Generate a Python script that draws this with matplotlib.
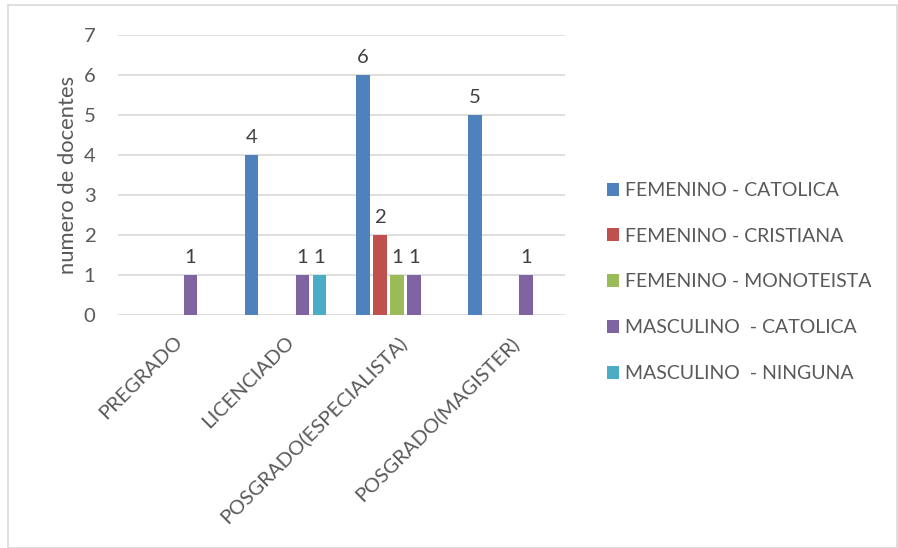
import matplotlib
matplotlib.use("Agg")
import matplotlib.pyplot as plt
from matplotlib.patches import Rectangle
import numpy as np

categories = ["PREGRADO", "LICENCIADO", "POSGRADO(ESPECIALISTA)", "POSGRADO(MAGISTER)"]
series_names = ["FEMENINO - CATOLICA", "FEMENINO - CRISTIANA", "FEMENINO - MONOTEISTA",
                "MASCULINO  - CATOLICA", "MASCULINO  - NINGUNA"]
fem_catolica = [0, 4, 6, 5]
fem_cristiana = [0, 0, 2, 0]
fem_monoteista = [0, 0, 1, 0]
masc_catolica = [1, 1, 1, 1]
masc_ninguna = [0, 1, 0, 0]
series_values = [fem_catolica, fem_cristiana, fem_monoteista, masc_catolica, masc_ninguna]
colors = ["#4F81BD", "#C0504D", "#9BBB59", "#8064A2", "#4BACC6"]

plt.rcParams['font.family'] = ['Lato', 'DejaVu Sans']
txt = "#595959"
fs = 14.6

fig = plt.figure(figsize=(8.98, 5.48), dpi=100)
ax = fig.add_axes([0.131, 0.425, 0.498, 0.511])

x = np.arange(len(categories))
width = 0.12
step = 0.152
handles = []
for i, (name, vals, c) in enumerate(zip(series_names, series_values, colors)):
    pos = x + (i - 2) * step
    b = ax.bar(pos, vals, width=width, color=c, label=name, zorder=3)
    handles.append(b)
    for p, v in zip(pos, vals):
        if v:
            ax.text(p, v + 0.22, str(v), ha='center', va='bottom', fontsize=fs, color="#404040")

ax.set_xlim(-0.5, len(categories) - 0.5)
ax.set_ylim(0, 7)
ax.set_yticks(range(0, 8))
ax.grid(axis='y', color='#D9D9D9', linewidth=1.2, zorder=0)
for s in ax.spines.values():
    s.set_visible(False)
ax.tick_params(axis='both', length=0, labelsize=fs, labelcolor=txt)
ax.tick_params(axis='y', pad=16)
ax.set_xticks(x)
ax.set_xticklabels(categories, rotation=45, ha='right', va='top', rotation_mode='anchor')
ax.tick_params(axis='x', pad=13)
for lbl in ax.get_xticklabels():
    lbl.set_x(lbl.get_position()[0])
ax.set_ylabel("numero de docentes", fontsize=15.8, color=txt, labelpad=4)

fig.legend(handles=handles, labels=series_names, loc='upper left',
           bbox_to_anchor=(0.656, 0.70), frameon=False, fontsize=14.0,
           handlelength=0.65, handleheight=0.65, handletextpad=0.3,
           labelspacing=1.48, labelcolor=txt)

fig.patches.append(Rectangle((0.009, 0.0), 0.99, 0.99, transform=fig.transFigure,
                             fill=False, edgecolor='#D9D9D9', linewidth=1.2))

fig.savefig("out.png", dpi=100)
